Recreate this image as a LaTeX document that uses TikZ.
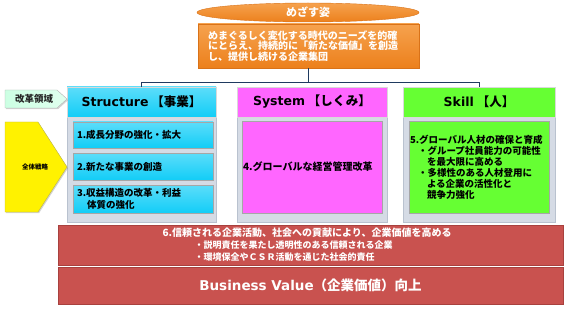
\documentclass[tikz,border=0pt]{standalone}
\usepackage{fontspec}
\setmainfont{Noto Sans CJK JP}
\newfontfamily\lat{DejaVu Sans}
\usetikzlibrary{shapes.geometric,shadows}
\definecolor{orT}{HTML}{F6A24E}
\definecolor{orB}{HTML}{EC801C}
\definecolor{orD}{HTML}{D97218}
\definecolor{cyF}{HTML}{12CDF7}
\definecolor{cyT}{HTML}{5CDDFA}
\definecolor{mgF}{HTML}{FF66FF}
\definecolor{grF}{HTML}{66FF33}
\definecolor{pnF}{HTML}{D5DBE5}
\definecolor{pnD}{HTML}{B9C2CF}
\definecolor{rdF}{HTML}{C9524F}
\definecolor{rdD}{HTML}{A8413E}
\definecolor{lgF}{HTML}{CCFFE3}
\definecolor{lnC}{HTML}{1F3A60}
\begin{document}
\begin{tikzpicture}[x=1pt,y=-1pt,
  shd/.style={drop shadow={opacity=0.35,shadow xshift=1pt,shadow yshift=-1.2pt}},
  panel/.style={draw=pnD, fill=pnF, inner sep=0pt, shd},
  hdr/.style={draw=white!70!gray, inner sep=0pt, minimum height=30pt,
    font=\bfseries\fontsize{12.5}{14}\selectfont},
  inbox/.style={draw=black!35, inner sep=0pt, minimum width=140pt,
    font=\bfseries\fontsize{9.5}{12}\selectfont, shd},
  redbox/.style={draw=rdD, fill=rdF, inner sep=0pt, minimum width=505pt,
    text=white, shd},
  conn/.style={draw=lnC, line width=1pt}
]
\useasboundingbox (0,0) rectangle (567,310);

% goal
\node[ellipse, draw=orD, top color=orT, bottom color=orB, minimum width=222pt,
  minimum height=19pt, inner sep=0pt, text=white,
  font=\bfseries\fontsize{11}{12}\selectfont] (goalE) at (308,12.5) {めざす姿};
\node[draw=orD, top color=orT, bottom color=orB, minimum width=221pt,
  minimum height=44pt, inner sep=0pt, text=white, text width=201pt, align=left,
  font=\bfseries\fontsize{10}{10.6}\selectfont, shd] (goal) at (308.5,46)
  {めまぐるしく変化する時代のニーズを的確\\にとらえ、持続的に「新たな価値」を創造\\し、提供し続ける企業集団};

% panels
\node[panel, minimum width=149pt, minimum height=135pt] (pA) at (141.5,154.5) {};
\node[panel, minimum width=150pt, minimum height=135pt] (pB) at (312,154.5) {};
\node[panel, minimum width=152pt, minimum height=135pt] (pC) at (479,154.5) {};

% headers
\node[hdr, top color=cyT, bottom color=cyF, minimum width=149pt] (hA) at (141.5,102) {{\lat Structure}\ 【事業】};
\node[hdr, fill=mgF, minimum width=150pt] (hB) at (312,102) {{\lat System}\ 【しくみ】};
\node[hdr, fill=grF, minimum width=152pt] (hC) at (479,102) {{\lat Skill}\ 【人】};

% connectors
\coordinate (bus) at (308.5,83);
\draw[conn] (goal.south) -- (bus);
\draw[conn] (bus) -| (hA.north);
\draw[conn] (bus) -| (hC.north);

% structure items
\node[inbox, top color=cyT, bottom color=cyF, minimum height=26pt, text width=132pt, align=left] (a1) at (143,135) {1.成長分野の強化・拡大};
\node[inbox, top color=cyT, bottom color=cyF, minimum height=27pt, text width=132pt, align=left] (a2) at (143,166.5) {2.新たな事業の創造};
\node[inbox, top color=cyT, bottom color=cyF, minimum height=28pt, text width=132pt, align=left] (a3) at (143,199) {3.収益構造の改革・利益\\\hspace*{10pt}体質の強化};

% system item
\node[inbox, fill=mgF, minimum height=92pt, text width=138pt, align=left,
  font=\bfseries\fontsize{10}{12}\selectfont] (b1) at (312,167) {4.グローバルな経営管理改革};

% skill item
\node[inbox, fill=grF, minimum height=92pt, text width=138pt, align=left,
  font=\bfseries\fontsize{9.5}{11}\selectfont] (c1) at (479,167)
  {5.グローバル人材の確保と育成\\\hspace*{8pt}・グループ社員能力の可能性\\\hspace*{17pt}を最大限に高める\\\hspace*{8pt}・多様性のある人材登用に\\\hspace*{17pt}よる企業の活性化と\\\hspace*{17pt}競争力強化};

% red boxes
\node[redbox, minimum height=40pt, text width=296pt, align=left] (r1) at (310.5,245)
  {{\bfseries\fontsize{10}{11}\selectfont 6.信頼される企業活動、社会への貢献により、企業価値を高める}\\
   {\bfseries\fontsize{9}{11}\selectfont\hspace*{32pt}・説明責任を果たし透明性のある信頼される企業}\\
   {\bfseries\fontsize{9}{11}\selectfont\hspace*{32pt}・環境保全やＣＳＲ活動を通じた社会的責任}};
\node[redbox, minimum height=37pt, font=\bfseries\fontsize{13.5}{15}\selectfont] (r2) at (310.5,285.5)
  {{\lat Business Value}（企業価値）向上};

% left labels
\path[draw=gray!60, left color=lgF, right color=lgF!60!white, shd] (5,90) -- (57,90) -- (67,99) -- (57,108) -- (5,108) -- cycle;
\node[font=\bfseries\fontsize{9.5}{10}\selectfont, text=black!85] (lk) at (34,99) {改革領域};
\path[draw=olive!60, fill=yellow, shd] (5,122) -- (38,122) -- (67,167) -- (38,212) -- (5,212) -- cycle;
\node[font=\bfseries\fontsize{6.5}{7}\selectfont] (ls) at (35,167) {全体戦略};
\end{tikzpicture}
\end{document}
